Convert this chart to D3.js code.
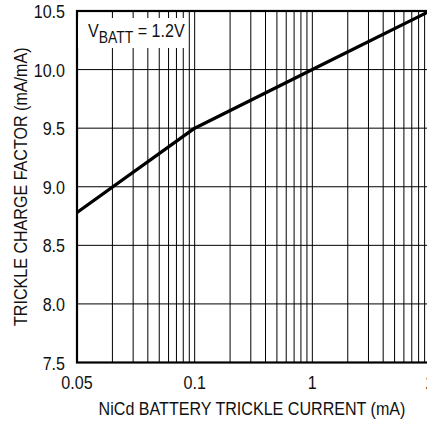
<!DOCTYPE html>
<html>
<head>
<meta charset="utf-8">
<script src="https://cdn.jsdelivr.net/npm/d3@7"></script>
<style>
  body { margin: 0; background: #fff; }
  #chart { width: 427px; height: 423px; }
  text { font-family: "Liberation Sans", Arial, sans-serif; fill: #111; }
</style>
</head>
<body>
<div id="chart"></div>
<script>
// trickle current (mA) vs trickle charge factor
const currentMa = [0.05, 0.1, 1, 2];
const chargeFactor = [8.78, 9.5, 10.0, 10.5];

const xTickValues = [0.05, 0.1, 1, 2];
const xTickLabels = ["0.05", "0.1", "1", "2"];
const yTickValues = [7.5, 8.0, 8.5, 9.0, 9.5, 10.0, 10.5];
// the background grid is plain 3-cycle log paper
const gridDecades = [0.01, 10];

// no condensed face installed, so squeeze the regular one
const NARROW = 0.87;
const FONT_SIZE = 18.5;

class TrickleChart {

    constructor(svg_id){
        this.svg_id = svg_id;
        this.svg = d3.select(this.svg_id).append("svg").attr("width", 427).attr("height", 423);
        this.margin = {top: 11, right: 430, bottom: 362.5, left: 77};
        this.data = currentMa.map((c, i) => ({x: c, y: chargeFactor[i]}));
    }

    draw(){
        this.build_scales();
        this.draw_grid();
        this.draw_curve();
        this.draw_frame();
        this.draw_labels();
        this.draw_legend();
    }

    build_scales(){
        const m = this.margin;
        const step = (m.right - m.left) / (xTickValues.length - 1);
        // each labelled interval gets one equal log cycle on the paper
        this.xScale = d3.scaleLog()
            .domain(xTickValues)
            .range(xTickValues.map((d, i) => m.left + i * step));
        this.gridScale = d3.scaleLog()
            .domain(gridDecades)
            .range([m.left, m.right]);
        this.yScale = d3.scaleLinear()
            .domain([yTickValues[0], yTickValues[yTickValues.length - 1]])
            .range([m.bottom, m.top]);
    }

    draw_grid(){
        const m = this.margin;
        const g = this.svg.append("g").attr("class", "grid");
        g.selectAll("line.v")
            .data(this.gridScale.ticks())
            .enter().append("line")
            .attr("class", "v")
            .attr("x1", d => this.gridScale(d)).attr("x2", d => this.gridScale(d))
            .attr("y1", m.top).attr("y2", m.bottom)
            .attr("stroke", "#000").attr("stroke-width", 1);
        g.selectAll("line.h")
            .data(yTickValues.slice(1, -1))
            .enter().append("line")
            .attr("class", "h")
            .attr("x1", m.left).attr("x2", m.right)
            .attr("y1", d => this.yScale(d)).attr("y2", d => this.yScale(d))
            .attr("stroke", "#000").attr("stroke-width", 1);
    }

    draw_curve(){
        const line = d3.line()
            .x(d => this.xScale(d.x))
            .y(d => this.yScale(d.y));
        this.svg.append("path")
            .datum(this.data)
            .attr("d", line)
            .attr("fill", "none")
            .attr("stroke", "#000")
            .attr("stroke-width", 3.3)
            .attr("stroke-linejoin", "round");
    }

    draw_frame(){
        const m = this.margin;
        this.svg.append("rect")
            .attr("x", m.left).attr("y", m.top)
            .attr("width", m.right - m.left).attr("height", m.bottom - m.top)
            .attr("fill", "none").attr("stroke", "#000").attr("stroke-width", 2.2);
    }

    narrow_text(x, y, anchor, transform){
        const g = this.svg.append("g")
            .attr("transform", `translate(${x},${y}) ${transform || ""} scale(${NARROW},1)`);
        return g.append("text")
            .attr("text-anchor", anchor)
            .style("font-size", FONT_SIZE + "px");
    }

    draw_labels(){
        const m = this.margin;
        xTickValues.forEach((d, i) => {
            this.narrow_text(this.xScale(d), 389, "middle").text(xTickLabels[i]);
        });

        yTickValues.forEach(d => {
            this.narrow_text(65, this.yScale(d) + 7, "end").text(d3.format(".1f")(d));
        });

        this.narrow_text((m.left + 427) / 2, 415, "middle")
            .text("NiCd BATTERY TRICKLE CURRENT (mA)");

        this.narrow_text(27, (m.top + m.bottom) / 2, "middle", "rotate(-90)")
            .text("TRICKLE CHARGE FACTOR (mA/mA)");
    }

    draw_legend(){
        const box = this.svg.append("rect").attr("fill", "#fff");
        const x0 = 88;
        const t = this.narrow_text(x0, 36.5, "start");
        t.append("tspan").text("V");
        t.append("tspan").attr("dy", 6.5).style("font-size", "16px").text("BATT");
        t.append("tspan").attr("dy", -6.5).text(" = 1.2V");
        const bb = t.node().getBBox();
        const left = this.margin.left + 1.1;
        box.attr("x", left).attr("y", 18)
            .attr("width", x0 + bb.width * NARROW + 3 - left)
            .attr("height", 30);
    }
}

const chart = new TrickleChart("#chart");
chart.draw();
</script>
</body>
</html>
